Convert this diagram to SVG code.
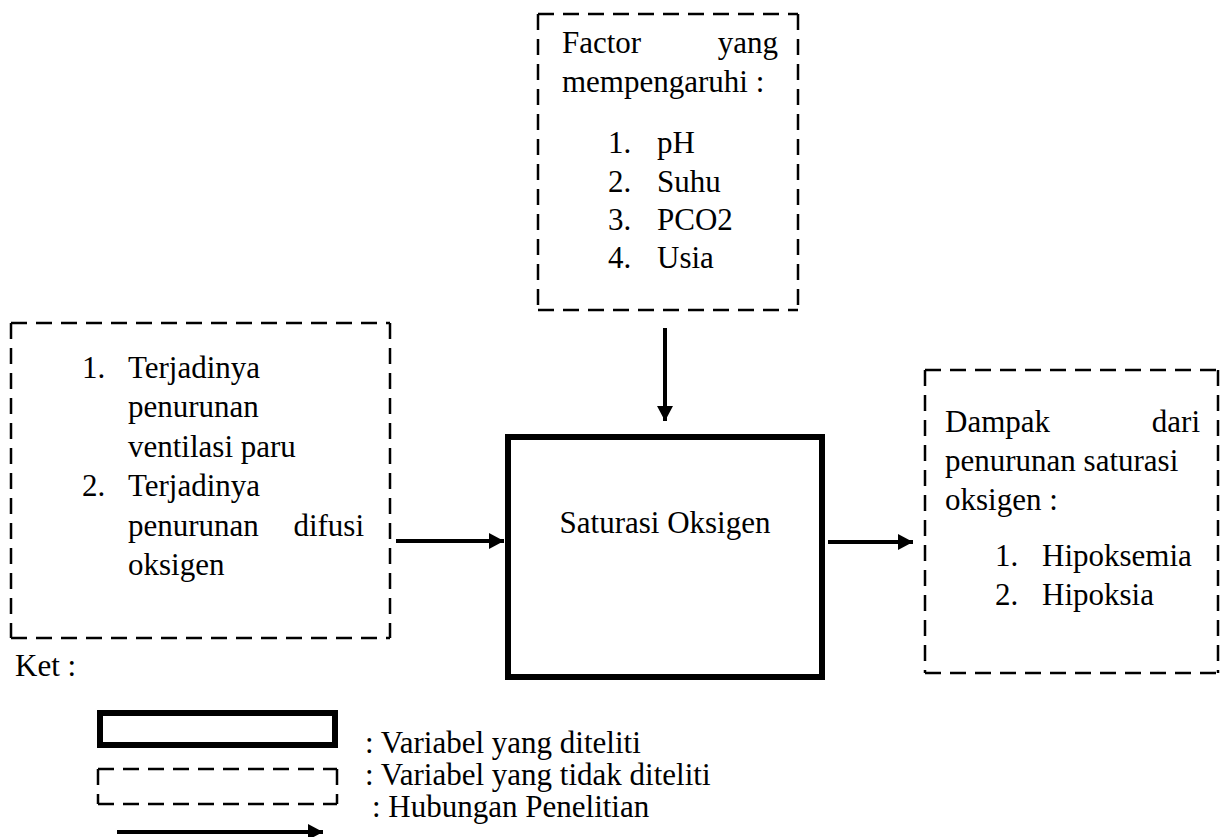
<svg xmlns="http://www.w3.org/2000/svg" width="1225" height="837" viewBox="0 0 1225 837">
<style>
text{font-family:"Liberation Serif","Times New Roman",serif;font-size:31px;fill:#000}
.dash{fill:none;stroke:#000;stroke-width:2.5;stroke-dasharray:16 9}
.solid{fill:none;stroke:#000;stroke-width:6}
.conn{stroke:#000;stroke-width:4;fill:none}
.end{text-anchor:end}
.mid{text-anchor:middle}
</style>
<defs>
<marker id="ah" viewBox="0 0 15 16" refX="15" refY="8" markerWidth="15" markerHeight="16" markerUnits="userSpaceOnUse" orient="auto">
<path d="M0,0 L15,8 L0,16 Z" fill="#000"/>
</marker>
</defs>
<rect width="1225" height="837" fill="#fff"/>
<g id="factor">
<path class="dash" d="M538,14 H798 M798,14 V310 M538,14 V310 M538,310 H798"/>
<text x="562" y="53">Factor</text>
<text class="end" x="778" y="53">yang</text>
<text x="562" y="92">mempengaruhi :</text>
<text x="608" y="153">1.</text><text x="657" y="153">pH</text>
<text x="608" y="192">2.</text><text x="657" y="192">Suhu</text>
<text x="608" y="230">3.</text><text x="657" y="230">PCO2</text>
<text x="608" y="268">4.</text><text x="657" y="268">Usia</text>
</g>
<g id="penyebab">
<path class="dash" d="M11,323 H390 M390,323 V638 M11,323 V638 M11,638 H390"/>
<text x="82" y="378">1.</text><text x="128" y="378">Terjadinya</text>
<text x="128" y="417">penurunan</text>
<text x="128" y="457">ventilasi paru</text>
<text x="82" y="496">2.</text><text x="128" y="496">Terjadinya</text>
<text x="128" y="536">penurunan</text><text class="end" x="364" y="536">difusi</text>
<text x="128" y="575">oksigen</text>
</g>
<g id="saturasi">
<rect class="solid" x="508" y="437" width="314" height="240"/>
<text class="mid" x="665" y="533">Saturasi Oksigen</text>
</g>
<g id="dampak">
<path class="dash" d="M925,370 H1218 M1218,370 V673 M925,370 V673 M925,673 H1218"/>
<text x="945" y="432">Dampak</text>
<text class="end" x="1200" y="432">dari</text>
<text x="945" y="471">penurunan saturasi</text>
<text x="945" y="510">oksigen :</text>
<text x="995" y="566">1.</text><text x="1042" y="566">Hipoksemia</text>
<text x="995" y="605">2.</text><text x="1042" y="605">Hipoksia</text>
</g>
<g id="connectors">
<line class="conn" x1="665" y1="328" x2="665" y2="421" marker-end="url(#ah)"/>
<line class="conn" x1="396" y1="541" x2="504" y2="541" marker-end="url(#ah)"/>
<line class="conn" x1="828" y1="542" x2="913" y2="542" marker-end="url(#ah)"/>
</g>
<g id="legend">
<text x="15" y="676">Ket :</text>
<rect class="solid" x="100" y="713" width="235" height="32"/>
<text x="365" y="753">: Variabel yang diteliti</text>
<path class="dash" d="M98,769 H337 M337,769 V804 M98,769 V804 M98,804 H337" stroke-dasharray="15 10"/>
<text x="365" y="785">: Variabel yang tidak diteliti</text>
<line class="conn" x1="117" y1="832" x2="323" y2="832" stroke-width="3.5" marker-end="url(#ah)"/>
<text x="372" y="817">: Hubungan Penelitian</text>
</g>
</svg>
